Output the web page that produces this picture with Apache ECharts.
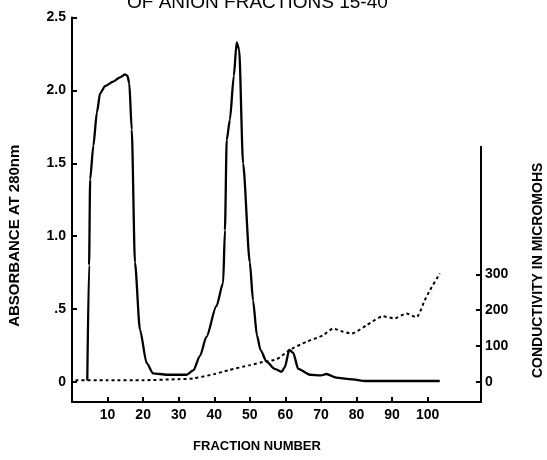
<!DOCTYPE html>
<html>
<head>
<meta charset="utf-8">
<script src="https://cdn.jsdelivr.net/npm/echarts@6/dist/echarts.min.js"></script>
<style>
html,body{margin:0;padding:0;background:#fff;}
#chart{width:547px;height:460px;}
</style>
</head>
<body>
<div id="chart"></div>
<script>
// Absorbance at 280nm (left axis) vs fraction number
var absFraction = [4.3, 4.8, 5.1, 6.0, 7.0, 7.9, 9.3, 11.6, 13.5, 14.9, 15.6, 16.1, 16.8, 17.7, 19.1, 21, 22.8, 26.6, 32.2, 34.1, 36, 37.8, 40.6, 42.5, 43, 43.5, 44.4, 45.5, 46.3, 47, 48.1, 50, 50.9, 52, 53, 54.7, 57, 58.9, 59.8, 61.1, 62.2, 63.6, 66.9, 70, 71.5, 74.3, 78, 82.8, 103.4];
var absValues   = [0.01, 0.8, 1.39, 1.62, 1.85, 1.98, 2.03, 2.06, 2.09, 2.11, 2.10, 2.05, 1.73, 0.82, 0.36, 0.13, 0.06, 0.05, 0.05, 0.08, 0.18, 0.31, 0.52, 0.68, 1.04, 1.66, 1.80, 2.10, 2.33, 2.28, 1.50, 0.82, 0.56, 0.32, 0.22, 0.14, 0.09, 0.07, 0.10, 0.22, 0.20, 0.09, 0.05, 0.045, 0.055, 0.03, 0.02, 0.007, 0.007];

// Conductivity in micromohs (right axis)
var condFraction = [1, 10, 20, 30, 34, 40, 44, 50, 54.7, 57.5, 61.2, 65.9, 70.6, 73.4, 76.2, 78.6, 82.8, 87.4, 90.7, 94, 96.8, 99.2, 100.6, 103.4];
var condValues   = [5, 5, 5, 8, 10, 22, 33, 47, 58, 63, 89, 112, 130, 149, 140, 135, 158, 183, 177, 191, 180, 228, 255, 302];

// Tick labels
var xTicks = [10, 20, 30, 40, 50, 60, 70, 80, 90, 100];
var absTicks = [0, 0.5, 1.0, 1.5, 2.0, 2.5];
var absTickLabels = ['0', '.5', '1.0', '1.5', '2.0', '2.5'];
var condTicks = [0, 100, 200, 300];

var absData = absFraction.map(function (f, i) { return [f, absValues[i]]; });
var condData = condFraction.map(function (f, i) { return [f, condValues[i]]; });

var FONT = 'Liberation Sans';
var chart = echarts.init(document.getElementById('chart'), null, {renderer: 'canvas'});
chart.setOption({
  backgroundColor: '#ffffff',
  animation: false,
  title: {
    text: 'OF ANION FRACTIONS 15-40',
    left: 122,
    top: -12,
    textStyle: {fontFamily: FONT, fontSize: 19, fontWeight: 'normal', color: '#000'}
  },
  grid: [
    {left: 72, right: 66, top: 17.5, bottom: 58, containLabel: false, outerBoundsMode: 'none'},
    {left: 72, right: 66, top: 146.7, bottom: 58, containLabel: false, outerBoundsMode: 'none'}
  ],
  xAxis: [
    {
      gridIndex: 0, type: 'value', min: 0, max: 115,
      name: 'FRACTION NUMBER', nameLocation: 'middle', nameGap: 38,
      nameTextStyle: {fontFamily: FONT, fontSize: 13, fontWeight: 'bold', color: '#000', padding: [0, 39, 0, 0]},
      axisLine: {show: true, onZero: false, lineStyle: {color: '#000', width: 2}},
      axisTick: {show: true, inside: true, length: 5, lineStyle: {color: '#000', width: 2}, customValues: xTicks},
      axisLabel: {color: '#000', fontFamily: FONT, fontSize: 14, fontWeight: 'bold', margin: 6, customValues: xTicks},
      splitLine: {show: false}
    },
    {
      gridIndex: 1, type: 'value', min: 0, max: 115, show: false
    }
  ],
  yAxis: [
    {
      gridIndex: 0, type: 'value', min: -0.137, max: 2.5, position: 'left',
      name: 'ABSORBANCE AT 280nm', nameLocation: 'middle', nameGap: 50, nameRotate: 90,
      nameTextStyle: {fontFamily: FONT, fontSize: 15, fontWeight: 'bold', color: '#000', padding: [0, 52, 0, 0]},
      axisLine: {show: true, onZero: false, lineStyle: {color: '#000', width: 2}},
      axisTick: {show: true, inside: true, length: 5, lineStyle: {color: '#000', width: 2}, customValues: absTicks},
      axisLabel: {
        color: '#000', fontFamily: FONT, fontSize: 14, fontWeight: 'bold', margin: 6,
        customValues: absTicks,
        formatter: function (v) {
          var i = absTicks.indexOf(Math.round(v * 10) / 10);
          return i >= 0 ? absTickLabels[i] : '';
        }
      },
      splitLine: {show: false}
    },
    {
      gridIndex: 1, type: 'value', min: -55.7, max: 655.4, position: 'right',
      name: 'CONDUCTIVITY IN MICROMOHS', nameLocation: 'middle', nameGap: 50, nameRotate: 90,
      nameTextStyle: {fontFamily: FONT, fontSize: 14, fontWeight: 'bold', color: '#000', padding: [0, 0, 0, 8]},
      axisLine: {show: true, onZero: false, lineStyle: {color: '#000', width: 2}},
      axisTick: {show: true, inside: true, length: 5, lineStyle: {color: '#000', width: 2}, customValues: condTicks},
      axisLabel: {color: '#000', fontFamily: FONT, fontSize: 14, fontWeight: 'bold', margin: 4, customValues: condTicks},
      splitLine: {show: false}
    }
  ],
  series: [
    {
      type: 'line', xAxisIndex: 0, yAxisIndex: 0, data: absData,
      showSymbol: false, smooth: 0.25, smoothMonotone: 'x',
      lineStyle: {color: '#000', width: 2.3}
    },
    {
      type: 'line', xAxisIndex: 1, yAxisIndex: 1, data: condData,
      showSymbol: false, smooth: 0.2,
      lineStyle: {color: '#000', width: 2, type: [3, 3]}
    }
  ]
});
</script>
</body>
</html>
